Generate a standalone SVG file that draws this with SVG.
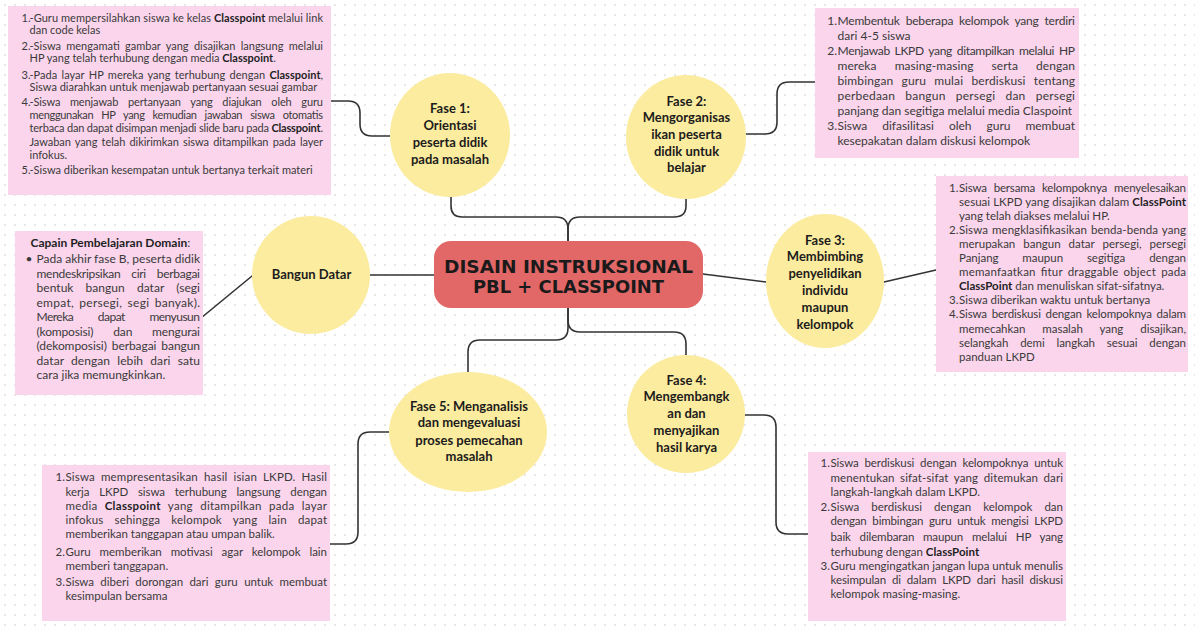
<svg xmlns="http://www.w3.org/2000/svg" width="1195" height="628" viewBox="0 0 1195 628">
  <defs>
    <pattern id="dots" x="4" y="4" width="10" height="10" patternUnits="userSpaceOnUse">
      <circle cx="1" cy="1" r="0.9" fill="#dcdcdc"/>
    </pattern>
    <style>
      .bub { fill: #fcec9f; }
      .note { fill: #fad5ec; }
      .hub { fill: #e26868; }
      .ct { font-family: Lato, "Liberation Sans", sans-serif; font-weight: 700; font-size: 13px; fill: #1c1c1c; text-anchor: middle; }
      .title { font-family: "DejaVu Sans", "Liberation Sans", sans-serif; font-weight: 700; font-size: 18.5px; fill: #1a1a1a; text-anchor: middle; }
      .t { font-family: Lato, "Liberation Sans", sans-serif; fill: #3a3a3a; }
      .s11 { font-size: 11px; }
      .s115 { font-size: 11.5px; }
      .s12 { font-size: 12px; }
      .n { text-anchor: end; }
      .bd { font-weight: 700; fill: #1f1f1f; }
      .link { fill: none; stroke: #333333; stroke-width: 1.6; stroke-linecap: round; stroke-linejoin: round; }
    </style>
  </defs>

  <rect width="1195" height="628" fill="#ffffff"/>
  <rect width="1195" height="628" fill="url(#dots)"/>

  <!-- connectors -->
  <g id="connectors">
    <!-- hub to upper phases -->
    <path class="link" d="M568,241 V229 Q568,217 556,217 H462 Q451,217 451,206 V197"/>
    <path class="link" d="M568,241 V229 Q568,217 580,217 H674 Q686,217 686,206 V199"/>
    <!-- hub to lower phases -->
    <path class="link" d="M568,308 V328 Q568,340 556,340 H480 Q468,340 468,352 V372"/>
    <path class="link" d="M568,308 V320 Q568,332 580,332 H674 Q686,332 686,344 V355"/>
    <!-- hub to side nodes -->
    <path class="link" d="M434,275 H370"/>
    <path class="link" d="M703,274 L766,282"/>
    <!-- phases to their notes -->
    <path class="link" d="M390,136 H372 Q360,136 360,124 V113 Q360,101 348,101 H331"/>
    <path class="link" d="M746,134 H765 Q777,134 777,122 V94 Q777,82 789,82 H815"/>
    <path class="link" d="M884,282 L936,270"/>
    <path class="link" d="M745,415 H764 Q776,415 776,427 V522 Q776,534 788,534 H808"/>
    <path class="link" d="M389,432 H370 Q358,432 358,444 V532 Q358,544 346,544 H330"/>
    <path class="link" d="M252,276 L201,318"/>
  </g>

  <!-- central topic -->
  <g id="hub">
    <rect class="hub" x="434" y="241" width="269" height="67" rx="17"/>
    <text class="title" x="568.5" y="272.7" textLength="249" lengthAdjust="spacingAndGlyphs">DISAIN INSTRUKSIONAL</text>
    <text class="title" x="568.5" y="292.7" textLength="191" lengthAdjust="spacingAndGlyphs">PBL + CLASSPOINT</text>
  </g>

  <!-- phase bubbles -->
  <g id="fase1">
    <ellipse class="bub" cx="450" cy="135" rx="60" ry="62"/>
    <text class="ct" x="450" y="112.8">Fase 1:</text>
    <text class="ct" x="450" y="129.5">Orientasi</text>
    <text class="ct" x="450" y="147.2">peserta didik</text>
    <text class="ct" x="450" y="163.8">pada masalah</text>
  </g>
  <g id="fase2">
    <ellipse class="bub" cx="686" cy="137" rx="60" ry="62"/>
    <text class="ct" x="686.5" y="106.2">Fase 2:</text>
    <text class="ct" x="686.5" y="122.2">Mengorganisas</text>
    <text class="ct" x="686.5" y="138.5">ikan peserta</text>
    <text class="ct" x="686.5" y="155.5">didik untuk</text>
    <text class="ct" x="686.5" y="172.2">belajar</text>
  </g>
  <g id="fase3">
    <ellipse class="bub" cx="825" cy="281" rx="59" ry="67"/>
    <text class="ct" x="825" y="244.5">Fase 3:</text>
    <text class="ct" x="825" y="261.2">Membimbing</text>
    <text class="ct" x="825" y="277.8">penyelidikan</text>
    <text class="ct" x="825" y="295.2">individu</text>
    <text class="ct" x="825" y="311.8">maupun</text>
    <text class="ct" x="825" y="328.5">kelompok</text>
  </g>
  <g id="fase4">
    <ellipse class="bub" cx="686" cy="414" rx="59" ry="59"/>
    <text class="ct" x="686.5" y="384.5">Fase 4:</text>
    <text class="ct" x="686.5" y="401.2">Mengembangk</text>
    <text class="ct" x="686.5" y="417.8">an dan</text>
    <text class="ct" x="686.5" y="435.2">menyajikan</text>
    <text class="ct" x="686.5" y="451.8">hasil karya</text>
  </g>
  <g id="fase5">
    <ellipse class="bub" cx="468" cy="432" rx="79" ry="60"/>
    <text class="ct" x="469" y="411.2">Fase 5: Menganalisis</text>
    <text class="ct" x="469" y="427.2">dan mengevaluasi</text>
    <text class="ct" x="469" y="444.5">proses pemecahan</text>
    <text class="ct" x="469" y="461.2">masalah</text>
  </g>
  <g id="bangun-datar">
    <ellipse class="bub" cx="311" cy="275" rx="59" ry="59"/>
    <text class="ct" x="311.5" y="278.5">Bangun Datar</text>
  </g>

  <!-- notes for phase 1 (justified lines: word gap + textLength) -->
  <g id="notes-fase1">
    <rect class="note" x="8" y="6" width="323" height="189"/>
    <text class="t s11" x="21.5" y="21.7">1.</text>
    <text class="t s11" x="29.5" y="21.7" textLength="293.5" lengthAdjust="spacing">-Guru mempersilahkan siswa ke kelas <tspan class="bd">Classpoint</tspan> melalui link</text>
    <text class="t s11" x="29.5" y="34">dan code kelas</text>
    <text class="t s11" x="21.5" y="49.5">2.</text>
    <text class="t s11" x="29.5" y="49.5" style="word-spacing:2.5px" textLength="293.5" lengthAdjust="spacing">-Siswa mengamati gambar yang disajikan langsung melalui</text>
    <text class="t s11" x="29.5" y="61.7">HP yang telah terhubung dengan media <tspan class="bd">Classpoint</tspan>.</text>
    <text class="t s11" x="21.5" y="78.5">3.</text>
    <text class="t s11" x="29.5" y="78.5" style="word-spacing:1.5px" textLength="293.5" lengthAdjust="spacing">-Pada layar HP mereka yang terhubung dengan <tspan class="bd">Classpoint</tspan>,</text>
    <text class="t s11" x="29.5" y="90.7">Siswa diarahkan untuk menjawab pertanyaan sesuai gambar</text>
    <text class="t s11" x="21.5" y="106.3">4.</text>
    <text class="t s11" x="29.5" y="106.3" style="word-spacing:7px" textLength="293.5" lengthAdjust="spacing">-Siswa menjawab pertanyaan yang diajukan oleh guru</text>
    <text class="t s11" x="29.5" y="119" style="word-spacing:5.5px" textLength="293.5" lengthAdjust="spacing">menggunakan HP yang kemudian jawaban siswa otomatis</text>
    <text class="t s11" x="29.5" y="132.3" textLength="293.5" lengthAdjust="spacing">terbaca dan dapat disimpan menjadi slide baru pada <tspan class="bd">Classpoint</tspan>.</text>
    <text class="t s11" x="29.5" y="145.7" style="word-spacing:1.5px" textLength="293.5" lengthAdjust="spacing">Jawaban yang telah dikirimkan siswa ditampilkan pada layer</text>
    <text class="t s11" x="29.5" y="159">infokus.</text>
    <text class="t s11" x="21.5" y="173.5">5.</text>
    <text class="t s11" x="29.5" y="173.5">-Siswa diberikan kesempatan untuk bertanya terkait materi</text>
  </g>

  <!-- notes for phase 2 -->
  <g id="notes-fase2">
    <rect class="note" x="815" y="8" width="264" height="150"/>
    <text class="t s12 n" x="837" y="24.5">1.</text>
    <text class="t s12" x="837.5" y="24.5" style="word-spacing:3px" textLength="237.5" lengthAdjust="spacing">Membentuk beberapa kelompok yang terdiri</text>
    <text class="t s12" x="837.5" y="40">dari 4-5 siswa</text>
    <text class="t s12 n" x="837" y="55">2.</text>
    <text class="t s12" x="837.5" y="55" style="word-spacing:2px" textLength="237.5" lengthAdjust="spacing">Menjawab LKPD yang ditampilkan melalui HP</text>
    <text class="t s12" x="837.5" y="70" style="word-spacing:15px" textLength="237.5" lengthAdjust="spacing">mereka masing-masing serta dengan</text>
    <text class="t s12" x="837.5" y="84.5" style="word-spacing:5px" textLength="237.5" lengthAdjust="spacing">bimbingan guru mulai berdiskusi tentang</text>
    <text class="t s12" x="837.5" y="99.5" style="word-spacing:7px" textLength="237.5" lengthAdjust="spacing">perbedaan bangun persegi dan persegi</text>
    <text class="t s12" x="837.5" y="114.5">panjang dan segitiga melalui media Claspoint</text>
    <text class="t s12 n" x="837" y="129.5">3.</text>
    <text class="t s12" x="837.5" y="129.5" style="word-spacing:12px" textLength="237.5" lengthAdjust="spacing">Siswa difasilitasi oleh guru membuat</text>
    <text class="t s12" x="837.5" y="144.5">kesepakatan dalam diskusi kelompok</text>
  </g>

  <!-- notes for phase 3 -->
  <g id="notes-fase3">
    <rect class="note" x="936" y="176" width="252" height="196"/>
    <text class="t s115 n" x="958.5" y="191.5">1.</text>
    <text class="t s115" x="959" y="191.5" style="word-spacing:4px" textLength="227" lengthAdjust="spacing">Siswa bersama kelompoknya menyelesaikan</text>
    <text class="t s115" x="959" y="205.6" textLength="227" lengthAdjust="spacing">sesuai LKPD yang disajikan dalam <tspan class="bd">ClassPoint</tspan></text>
    <text class="t s115" x="959" y="219.7">yang telah diakses melalui HP.</text>
    <text class="t s115 n" x="958.5" y="233.8">2.</text>
    <text class="t s115" x="959" y="233.8" style="word-spacing:1px" textLength="227" lengthAdjust="spacing">Siswa mengklasifikasikan benda-benda yang</text>
    <text class="t s115" x="959" y="247.9" style="word-spacing:5px" textLength="227" lengthAdjust="spacing">merupakan bangun datar persegi, persegi</text>
    <text class="t s115" x="959" y="262" style="word-spacing:21px" textLength="227" lengthAdjust="spacing">Panjang maupun segitiga dengan</text>
    <text class="t s115" x="959" y="276.1" style="word-spacing:2px" textLength="227" lengthAdjust="spacing">memanfaatkan fitur draggable object pada</text>
    <text class="t s115" x="959" y="290.2"><tspan class="bd">ClassPoint</tspan> dan menuliskan sifat-sifatnya.</text>
    <text class="t s115 n" x="958.5" y="304.3">3.</text>
    <text class="t s115" x="959" y="304.3">Siswa diberikan waktu untuk bertanya</text>
    <text class="t s115 n" x="958.5" y="318.4">4.</text>
    <text class="t s115" x="959" y="318.4" style="word-spacing:2px" textLength="227" lengthAdjust="spacing">Siswa berdiskusi dengan kelompoknya dalam</text>
    <text class="t s115" x="959" y="332.5" style="word-spacing:14px" textLength="227" lengthAdjust="spacing">memecahkan masalah yang disajikan,</text>
    <text class="t s115" x="959" y="346.6" style="word-spacing:9px" textLength="227" lengthAdjust="spacing">selangkah demi langkah sesuai dengan</text>
    <text class="t s115" x="959" y="360.7">panduan LKPD</text>
  </g>

  <!-- learning outcome for the topic -->
  <g id="notes-bangun-datar">
    <rect class="note" x="15" y="231" width="188" height="164"/>
    <text class="t s12" x="30.5" y="247"><tspan class="bd">Capain Pembelajaran Domain</tspan>:</text>
    <text class="t s12" x="25.5" y="263">•</text>
    <text class="t s12" x="36.5" y="263" textLength="163.5" lengthAdjust="spacing">Pada akhir fase B, peserta didik</text>
    <text class="t s12" x="36.5" y="277.5" style="word-spacing:8px" textLength="163.5" lengthAdjust="spacing">mendeskripsikan ciri berbagai</text>
    <text class="t s12" x="36.5" y="292" style="word-spacing:9px" textLength="163.5" lengthAdjust="spacing">bentuk bangun datar (segi</text>
    <text class="t s12" x="36.5" y="306.5" style="word-spacing:2px" textLength="163.5" lengthAdjust="spacing">empat, persegi, segi banyak).</text>
    <text class="t s12" x="36.5" y="321" style="word-spacing:22px" textLength="163.5" lengthAdjust="spacing">Mereka dapat menyusun</text>
    <text class="t s12" x="36.5" y="335.5" style="word-spacing:17px" textLength="163.5" lengthAdjust="spacing">(komposisi) dan mengurai</text>
    <text class="t s12" x="36.5" y="350" style="word-spacing:2px" textLength="163.5" lengthAdjust="spacing">(dekomposisi) berbagai bangun</text>
    <text class="t s12" x="36.5" y="364.5" style="word-spacing:4px" textLength="163.5" lengthAdjust="spacing">datar dengan lebih dari satu</text>
    <text class="t s12" x="36.5" y="379">cara jika memungkinkan.</text>
  </g>

  <!-- notes for phase 4 -->
  <g id="notes-fase4">
    <rect class="note" x="808" y="452" width="258" height="169"/>
    <text class="t s115 n" x="830" y="467.3">1.</text>
    <text class="t s115" x="830.5" y="467.3" style="word-spacing:3px" textLength="232.5" lengthAdjust="spacing">Siswa berdiskusi dengan kelompoknya untuk</text>
    <text class="t s115" x="830.5" y="481.7" style="word-spacing:2.5px" textLength="232.5" lengthAdjust="spacing">menentukan sifat-sifat yang ditemukan dari</text>
    <text class="t s115" x="830.5" y="496.3">langkah-langkah dalam LKPD.</text>
    <text class="t s115 n" x="830" y="510.7">2.</text>
    <text class="t s115" x="830.5" y="510.7" style="word-spacing:9px" textLength="232.5" lengthAdjust="spacing">Siswa berdiskusi dengan kelompok dan</text>
    <text class="t s115" x="830.5" y="525" style="word-spacing:3px" textLength="232.5" lengthAdjust="spacing">dengan bimbingan guru untuk mengisi LKPD</text>
    <text class="t s115" x="830.5" y="540.7" style="word-spacing:6px" textLength="232.5" lengthAdjust="spacing">baik dilembaran maupun melalui HP yang</text>
    <text class="t s115" x="830.5" y="555.7">terhubung dengan <tspan class="bd">ClassPoint</tspan></text>
    <text class="t s115 n" x="830" y="570">3.</text>
    <text class="t s115" x="830.5" y="570" textLength="232.5" lengthAdjust="spacing">Guru mengingatkan jangan lupa untuk menulis</text>
    <text class="t s115" x="830.5" y="584" style="word-spacing:3px" textLength="232.5" lengthAdjust="spacing">kesimpulan di dalam LKPD dari hasil diskusi</text>
    <text class="t s115" x="830.5" y="598">kelompok masing-masing.</text>
  </g>

  <!-- notes for phase 5 -->
  <g id="notes-fase5">
    <rect class="note" x="42" y="465" width="288" height="156"/>
    <text class="t s115 n" x="65" y="481">1.</text>
    <text class="t s115" x="65.5" y="481" style="word-spacing:3px" textLength="261.5" lengthAdjust="spacing">Siswa mempresentasikan hasil isian LKPD. Hasil</text>
    <text class="t s115" x="65.5" y="495.5" style="word-spacing:7px" textLength="261.5" lengthAdjust="spacing">kerja LKPD siswa terhubung langsung dengan</text>
    <text class="t s115" x="65.5" y="509.5" style="word-spacing:4px" textLength="261.5" lengthAdjust="spacing">media <tspan class="bd">Classpoint</tspan> yang ditampilkan pada layar</text>
    <text class="t s115" x="65.5" y="523.5" style="word-spacing:8px" textLength="261.5" lengthAdjust="spacing">infokus sehingga kelompok yang lain dapat</text>
    <text class="t s115" x="65.5" y="538">memberikan tanggapan atau umpan balik.</text>
    <text class="t s115 n" x="65" y="556">2.</text>
    <text class="t s115" x="65.5" y="556" style="word-spacing:6px" textLength="261.5" lengthAdjust="spacing">Guru memberikan motivasi agar kelompok lain</text>
    <text class="t s115" x="65.5" y="569.5">memberi tanggapan.</text>
    <text class="t s115 n" x="65" y="586">3.</text>
    <text class="t s115" x="65.5" y="586" style="word-spacing:3.5px" textLength="261.5" lengthAdjust="spacing">Siswa diberi dorongan dari guru untuk membuat</text>
    <text class="t s115" x="65.5" y="599.5">kesimpulan bersama</text>
  </g>
</svg>
